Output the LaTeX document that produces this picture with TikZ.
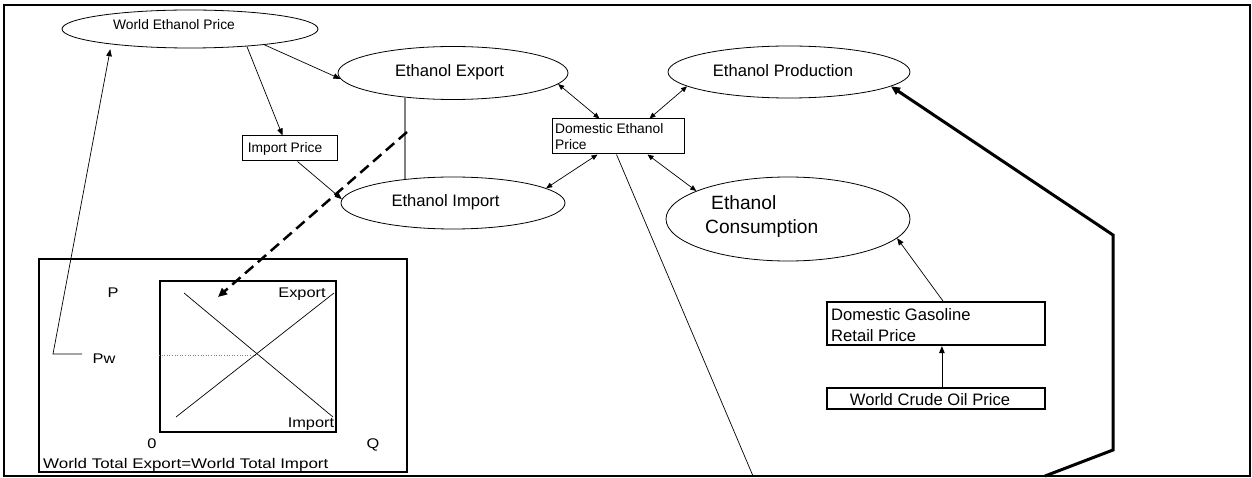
\documentclass[tikz,border=0pt]{standalone}
\usepackage{fontspec}
\setmainfont{Liberation Sans}
\usetikzlibrary{arrows.meta,shapes.geometric,calc}
\begin{document}
\begin{tikzpicture}[x=1pt,y=-1pt,
  ell/.style={draw,ellipse,line width=0.8pt,inner sep=0pt},
  box/.style={draw,rectangle,inner sep=0pt,line width=1pt},
  tbox/.style={draw,rectangle,inner sep=0pt,line width=2.2pt},
  lbl/.style={inner sep=0pt,anchor=base},
  lblw/.style={inner sep=0pt,anchor=base west},
  fs/.style={font=\fontsize{13.8}{16}\selectfont},
  fm/.style={font=\fontsize{16.6}{21}\selectfont},
  fb/.style={font=\fontsize{19.2}{24}\selectfont},
  fg/.style={font=\fontsize{14}{16}\selectfont\addfontfeatures{FakeStretch=1.17}},
  fgw/.style={font=\fontsize{14}{16}\selectfont\addfontfeatures{FakeStretch=1.21}},
  arr/.style={-{Triangle[length=7pt,width=5.5pt]},line width=0.7pt},
  darr/.style={{Triangle[length=6pt,width=5pt]}-{Triangle[length=6pt,width=5pt]},line width=0.7pt},
]
\useasboundingbox (0,0) rectangle (1252,478);
\draw[line width=2pt] (4,5) rectangle (1250,476);

% ellipses
\node[ell,minimum width=256pt,minimum height=38pt] (wep) at (190,29) {};
\node[ell,minimum width=230pt,minimum height=53pt] (exp) at (453,73) {};
\node[ell,minimum width=242pt,minimum height=52pt] (prod) at (789,72) {};
\node[ell,minimum width=224pt,minimum height=52pt] (imp) at (453,203) {};
\node[ell,minimum width=244pt,minimum height=84pt] (cons) at (788,219) {};

\node[lbl,fs] (twep) at (174,30) {World Ethanol Price};
\node[lbl,fm] (texp) at (449.5,77) {Ethanol Export};
\node[lbl,fm] (tprod) at (783,77) {Ethanol Production};
\node[lbl,fm] (timp) at (445.5,207) {Ethanol Import};
\node[lblw,fb] (tcons1) at (711,210) {Ethanol};
\node[lblw,fb] (tcons2) at (705,234) {Consumption};

% boxes
\node[box,minimum width=95pt,minimum height=25pt] (ip) at (289.5,148.5) {};
\node[lbl,fs] (tip) at (285,153) {Import Price};
\node[box,minimum width=132pt,minimum height=35pt] (dep) at (618,136.5) {};
\node[lblw,fs] (tdep1) at (555,134) {Domestic Ethanol};
\node[lblw,fs] (tdep2) at (555,150) {Price};
\node[tbox,minimum width=218pt,minimum height=43pt] (gas) at (936,323.5) {};
\node[lblw,fm] (tgas1) at (831,320) {Domestic Gasoline};
\node[lblw,fm] (tgas2) at (831,341) {Retail Price};
\node[tbox,minimum width=218pt,minimum height=21pt] (crude) at (936,398.5) {};
\node[lbl,fm] (tcrude) at (930,405) {World Crude Oil Price};

% graph panel
\node[tbox,minimum width=368pt,minimum height=213pt] (panel) at (223,365.5) {};
\node[tbox,minimum width=176pt,minimum height=151pt] (plot) at (248,356.5) {};
\draw[line width=0.7pt] (184,293) -- (333,417);
\draw[line width=0.7pt] (176,417) -- (334,293);
\draw[gray,dotted,line width=0.6pt] (plot.west |- 0,355) -- (257,355);
\node[lbl,fg] (tp) at (113,298) {P};
\node[lbl,fg] (tpw) at (104,363) {Pw};
\node[lbl,fg] (tex) at (302,298) {Export};
\node[lbl,fg] (tim) at (311,427) {Import};
\node[lbl,fg] (t0) at (152,448) {0};
\node[lbl,fg] (tq) at (373,448) {Q};
\node[lblw,fgw] (ttot) at (43,468) {World Total Export=World Total Import};

% connectors
\draw[arr] (wep.-12) -- (exp.183);
\draw[arr] (wep.-17) -- ([xshift=41pt]ip.north west);
\draw[arr] ([xshift=56pt]ip.south west) -- (imp.178);
\draw[gray,line width=1.3pt] (exp.207.4) -- (exp.207.4 |- imp.152.7);
\coordinate (dstart) at (407,132);
\coordinate (dend) at (218,297);
\draw[-{Triangle[length=9pt,width=8pt]},line width=2.5pt,dash pattern=on 11pt off 6pt] (dstart) -- (dend);

\draw[darr] ([xshift=48pt]dep.north west) -- (exp.-6.7);
\draw[darr] ([xshift=98pt]dep.north west) -- (prod.188.6);
\draw[darr] ([xshift=46pt]dep.south west) -- (imp.9);
\draw[darr] ([xshift=96pt]dep.south west) -- (cons.163);

\coordinate (bot1) at (753,476);
\draw[line width=0.7pt] ([xshift=65pt]dep.south west) -- (bot1);

\draw[arr] ([xshift=117pt]gas.north west) -- (cons.-10);
\draw[arr] ([xshift=116pt]crude.north west) -- ([xshift=116pt]gas.south west);

\coordinate (bot2) at (1045,476);
\draw[line width=3pt,line join=miter,-{Triangle[length=9pt,width=8pt]}] (bot2) -- (1113,450) -- (1113,235) -- (prod.-8.4);

\coordinate (pwend) at (82,354);
\draw[arr,shorten >=5pt] (pwend) -- (53,354) -- (wep.191.2);
\end{tikzpicture}
\end{document}
